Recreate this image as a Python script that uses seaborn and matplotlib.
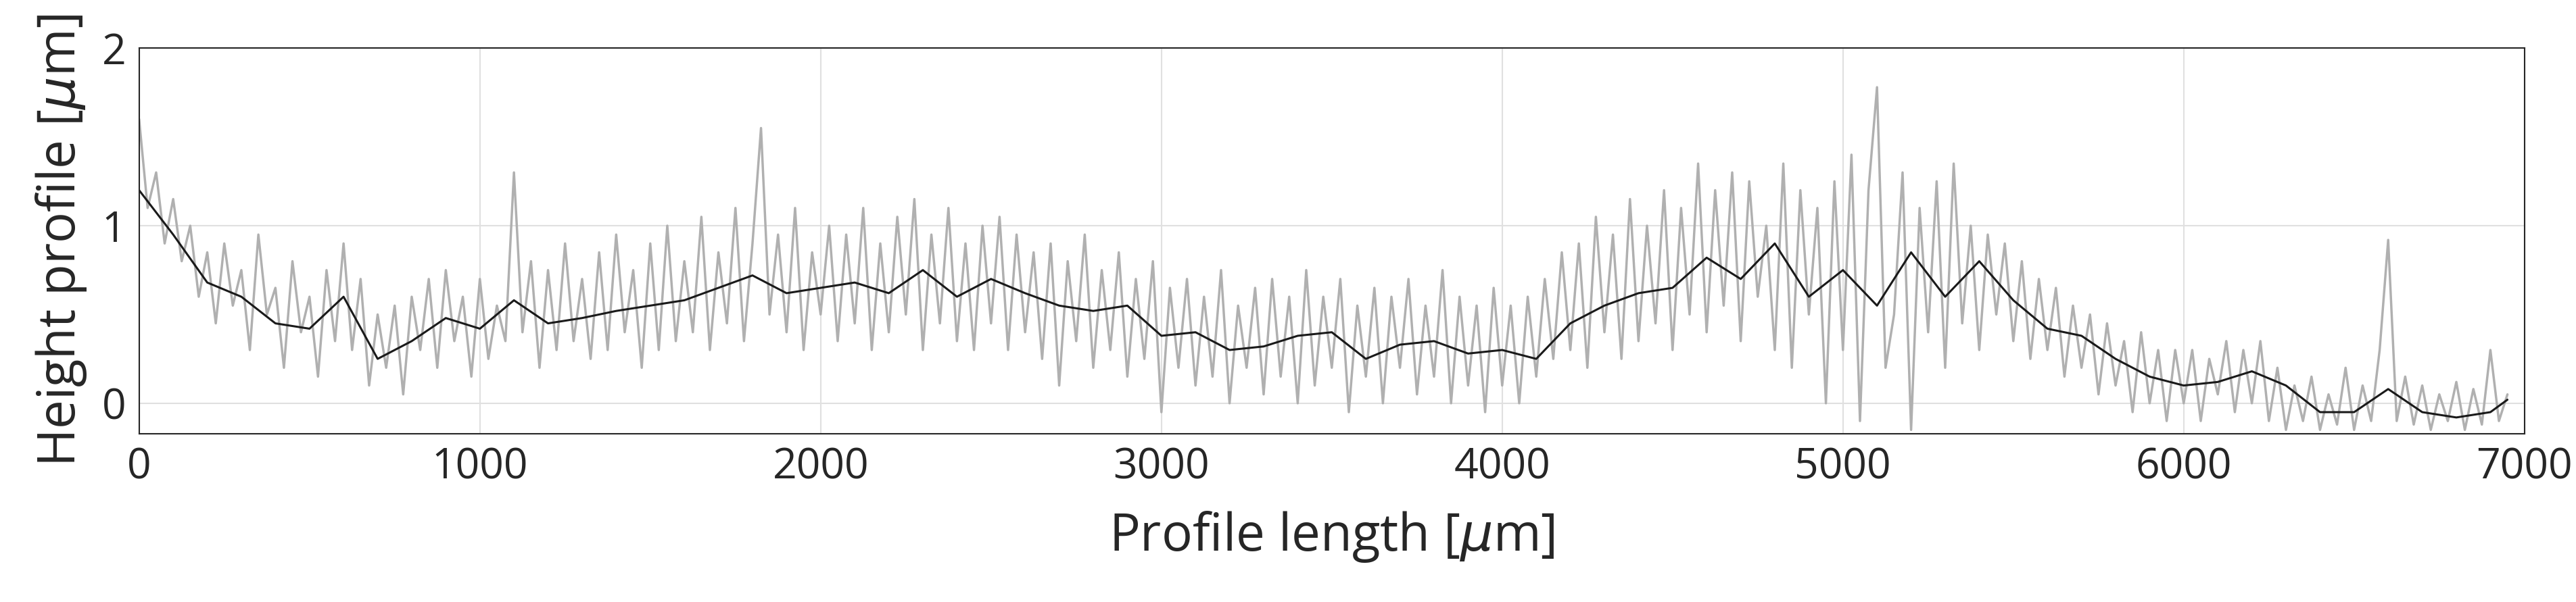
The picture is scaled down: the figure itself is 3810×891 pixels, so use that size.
import numpy as np
import pandas as pd
import seaborn as sns
import matplotlib.pyplot as plt

# smoothed profile, one value per 100 um
smooth_x = list(range(0, 7000, 100)) + [6950]
smooth_y = [1.2, 0.95, 0.68, 0.6, 0.45, 0.42, 0.6, 0.25, 0.35, 0.48,
            0.42, 0.58, 0.45, 0.48, 0.52, 0.55, 0.58, 0.65, 0.72, 0.62,
            0.65, 0.68, 0.62, 0.75, 0.6, 0.7, 0.62, 0.55, 0.52, 0.55,
            0.38, 0.4, 0.3, 0.32, 0.38, 0.4, 0.25, 0.33, 0.35, 0.28,
            0.3, 0.25, 0.45, 0.55, 0.62, 0.65, 0.82, 0.7, 0.9, 0.6,
            0.75, 0.55, 0.85, 0.6, 0.8, 0.58, 0.42, 0.38, 0.25, 0.15,
            0.1, 0.12, 0.18, 0.1, -0.05, -0.05, 0.08, -0.05, -0.08, -0.05,
            0.02]

# raw profile, one value per 25 um
raw_y = [
    1.6, 1.1, 1.3, 0.9, 1.15, 0.8, 1.0, 0.6, 0.85, 0.45, 0.9, 0.55, 0.75, 0.3, 0.95, 0.5, 0.65, 0.2, 0.8, 0.4,
    0.6, 0.15, 0.75, 0.35, 0.9, 0.3, 0.7, 0.1, 0.5, 0.2, 0.55, 0.05, 0.6, 0.3, 0.7, 0.2, 0.75, 0.35, 0.6, 0.15,
    0.7, 0.25, 0.55, 0.35, 1.3, 0.4, 0.8, 0.2, 0.75, 0.3, 0.9, 0.35, 0.7, 0.25, 0.85, 0.3, 0.95, 0.4, 0.75, 0.2,
    0.9, 0.3, 1.0, 0.35, 0.8, 0.4, 1.05, 0.3, 0.85, 0.45, 1.1, 0.35, 0.9, 1.55, 0.5, 0.95, 0.4, 1.1, 0.3, 0.85,
    0.5, 1.0, 0.35, 0.95, 0.45, 1.1, 0.3, 0.9, 0.4, 1.05, 0.5, 1.15, 0.3, 0.95, 0.45, 1.1, 0.35, 0.9, 0.3, 1.0,
    0.45, 1.05, 0.3, 0.95, 0.4, 0.85, 0.25, 0.9, 0.1, 0.8, 0.35, 0.95, 0.2, 0.75, 0.3, 0.85, 0.15, 0.7, 0.25, 0.8,
    -0.05, 0.65, 0.2, 0.7, 0.1, 0.6, 0.15, 0.75, 0.0, 0.55, 0.2, 0.65, 0.05, 0.7, 0.15, 0.6, 0.0, 0.75, 0.1, 0.6,
    0.2, 0.7, -0.05, 0.55, 0.15, 0.65, 0.0, 0.6, 0.2, 0.7, 0.05, 0.55, 0.15, 0.75, 0.0, 0.6, 0.1, 0.55, -0.05, 0.65,
    0.1, 0.55, 0.0, 0.6, 0.15, 0.7, 0.25, 0.85, 0.3, 0.9, 0.2, 1.05, 0.4, 0.95, 0.25, 1.15, 0.35, 1.0, 0.45, 1.2,
    0.3, 1.1, 0.5, 1.35, 0.4, 1.2, 0.55, 1.3, 0.35, 1.25, 0.6, 1.0, 0.3, 1.35, 0.2, 1.2, 0.5, 1.1, 0.0, 1.25,
    0.3, 1.4, -0.1, 1.2, 1.78, 0.2, 0.5, 1.3, -0.15, 1.1, 0.4, 1.25, 0.2, 1.35, 0.45, 1.0, 0.3, 0.95, 0.5, 0.9,
    0.35, 0.8, 0.25, 0.7, 0.3, 0.65, 0.15, 0.55, 0.2, 0.5, 0.05, 0.45, 0.1, 0.35, -0.05, 0.4, 0.0, 0.3, -0.1, 0.3,
    0.0, 0.3, -0.1, 0.25, 0.05, 0.35, -0.05, 0.3, 0.0, 0.35, -0.1, 0.2, -0.15, 0.1, -0.1, 0.15, -0.15, 0.05, -0.12, 0.2,
    -0.15, 0.1, -0.1, 0.3, 0.92, -0.1, 0.15, -0.12, 0.1, -0.15, 0.05, -0.1, 0.12, -0.15, 0.08, -0.12, 0.3, -0.1, 0.05,
]
raw_x = [i * 25 for i in range(len(raw_y))]

x_ticks = [0, 1000, 2000, 3000, 4000, 5000, 6000, 7000]
y_ticks = [0, 1, 2]

sns.set_style('white')
plt.rcParams['font.family'] = ['Open Sans', 'DejaVu Sans']
plt.rcParams['mathtext.fontset'] = 'dejavusans'

raw = pd.DataFrame({'x': raw_x, 'y': raw_y})
smooth = pd.DataFrame({'x': smooth_x, 'y': smooth_y})

fig, ax = plt.subplots(figsize=(38.1, 8.91), dpi=100)
fig.subplots_adjust(left=0.054, right=0.98, top=0.92, bottom=0.28)

sns.lineplot(data=raw, x='x', y='y', ax=ax, color='#b0b0b0', linewidth=2.5)
sns.lineplot(data=smooth, x='x', y='y', ax=ax, color='#1a1a1a', linewidth=2.2)

ax.set_xlim(0, 7000)
ax.set_ylim(-0.17, 2)
ax.set_xticks(x_ticks)
ax.set_yticks(y_ticks)
ax.grid(True, color='#e0e0e0', linewidth=1.5)
ax.tick_params(direction='in', length=10, labelsize=45, pad=14, colors='#262626')
for s in ax.spines.values():
    s.set_color('#262626')
    s.set_linewidth(1.5)
ax.set_xlabel(r'Profile length [$\mu$m]', fontsize=55, color='#262626', labelpad=22)
ax.set_ylabel(r'Height profile [$\mu$m]', fontsize=55, color='#262626', labelpad=14)

fig.savefig('out.png', dpi=100)
